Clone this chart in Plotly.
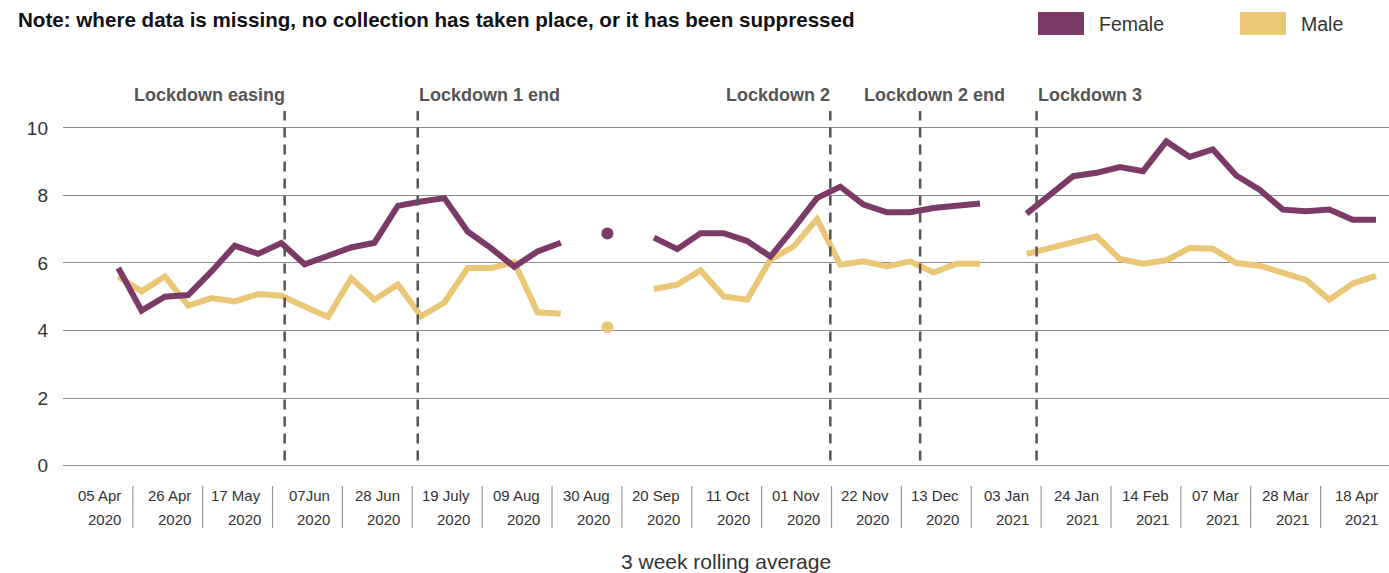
import pandas as pd
import plotly.graph_objects as go

# ---------------- data ----------------
start_date = "2020-04-05"
female = [5.85, 4.59, 5.00, 5.05, 5.75, 6.51, 6.27, 6.59, 5.96, 6.22,
          6.46, 6.60, 7.69, 7.82, 7.92, 6.93, 6.44, 5.89, 6.34, 6.60,
          None, 6.87, None, 6.75, 6.41, 6.88, 6.88, 6.65, 6.19, 7.03,
          7.92, 8.26, 7.73, 7.50, 7.50, 7.63, 7.68, 7.76, None, 7.46,
          8.00, 8.57, 8.67, 8.84, 8.72, 9.60, 9.14, 9.36, 8.59, 8.17,
          7.58, 7.53, 7.58, 7.28, 7.28]
male = [5.60, 5.16, 5.60, 4.74, 4.96, 4.86, 5.08, 5.03, 4.71, 4.40,
        5.55, 4.91, 5.36, 4.42, 4.83, 5.85, 5.85, 6.02, 4.54, 4.50,
        None, 4.10, None, 5.23, 5.36, 5.78, 5.01, 4.91, 6.10, 6.49,
        7.30, 5.95, 6.05, 5.90, 6.05, 5.72, 5.98, 5.98, None, 6.27,
        6.44, 6.59, 6.79, 6.12, 5.98, 6.08, 6.44, 6.42, 6.00, 5.92,
        5.70, 5.50, 4.91, 5.39, 5.62]

tick_days = ["05 Apr", "26 Apr", "17 May", "07Jun", "28 Jun", "19 July", "09 Aug",
             "30 Aug", "20 Sep", "11 Oct", "01 Nov", "22 Nov", "13 Dec", "03 Jan",
             "24 Jan", "14 Feb", "07 Mar", "28 Mar", "18 Apr"]
tick_years = ["2020"] * 13 + ["2021"] * 6

event_names = ["Lockdown easing", "Lockdown 1 end", "Lockdown 2", "Lockdown 2 end", "Lockdown 3"]
event_dates = ["2020-05-25", "2020-07-04", "2020-11-05", "2020-12-02", "2021-01-06"]

y_ticks = [0, 2, 4, 6, 8, 10]

# ---------------- styling ----------------
FEMALE_C = "#7b3a68"
MALE_C = "#eac777"
FONT = "Liberation Sans, Arial, Helvetica, sans-serif"
W, H = 1389, 573
ML, MR, MT, MB = 63, 0, 111, 104
PX_PER_DAY = 23.29 / 7


def px_x(px):
    return (px - ML) / (W - ML - MR)


def px_y(py):
    return (H - MB - py) / (H - MT - MB)


dates = pd.date_range(start_date, periods=len(female), freq="7D")
d0 = pd.Timestamp(start_date)
x_start = d0 - pd.Timedelta(days=(118.3 - ML) / PX_PER_DAY)
x_end = d0 + pd.Timedelta(days=(W - MR - 118.3) / PX_PER_DAY)


def isolated_sizes(vals, size):
    out = []
    for i, v in enumerate(vals):
        prev_missing = i == 0 or vals[i - 1] is None
        next_missing = i == len(vals) - 1 or vals[i + 1] is None
        out.append(size if (v is not None and prev_missing and next_missing) else 0)
    return out


fig = go.Figure()
for name, vals, col in [("Male", male, MALE_C), ("Female", female, FEMALE_C)]:
    fig.add_trace(go.Scatter(
        x=dates, y=vals, name=name, mode="lines+markers",
        line=dict(color=col, width=6),
        marker=dict(color=col, size=isolated_sizes(vals, 12), opacity=1, line=dict(width=0)),
        connectgaps=False, showlegend=False,
    ))

shapes = []
annotations = []

# lockdown lines and labels
label_anchor = ["right", "left", "right", "left", "left"]
label_shift = [2, -1, 2, -58, -1]
for name, d, anc, sh in zip(event_names, event_dates, label_anchor, label_shift):
    shapes.append(dict(type="line", xref="x", yref="y", x0=d, x1=d, y0=0.15, y1=10.5,
                       line=dict(color="#555555", width=2.5, dash="10px,7px"), layer="above"))
    annotations.append(dict(x=d, xref="x", y=px_y(95), yref="paper", text=name,
                            showarrow=False, xanchor=anc, yanchor="middle", xshift=sh,
                            font=dict(family=FONT, size=18, color="#555555", weight="bold")))

# x tick labels (right aligned, two rows) and separators
tick_dates = dates[::3]
for i, (td, dl, yl) in enumerate(zip(tick_dates, tick_days, tick_years)):
    xlab = td + pd.Timedelta(days=4.5 / PX_PER_DAY)
    for txt, py in [(dl, 495), (yl, 519)]:
        annotations.append(dict(x=xlab, xref="x", y=px_y(py), yref="paper", text=txt,
                                showarrow=False, xanchor="right", yanchor="middle",
                                font=dict(family=FONT, size=15, color="#333333")))
    if i < len(tick_days) - 1:
        xs = td + pd.Timedelta(days=14.5 / PX_PER_DAY)
        shapes.append(dict(type="line", xref="x", yref="paper", x0=xs, x1=xs,
                           y0=px_y(486), y1=px_y(528), line=dict(color="#999999", width=1.2)))

# title note
annotations.append(dict(x=px_x(16), xref="paper", y=px_y(20), yref="paper",
                        text="Note: where data is missing, no collection has taken place, or it has been suppressed",
                        showarrow=False, xanchor="left", yanchor="middle",
                        font=dict(family=FONT, size=20.6, color="#111111", weight="bold")))

# axis title
annotations.append(dict(x=0.5, xref="paper", y=px_y(561), yref="paper",
                        text="3 week rolling average", showarrow=False,
                        xanchor="center", yanchor="middle",
                        font=dict(family=FONT, size=21, color="#333333")))

# legend (swatches + labels)
for name, col, sx in [("Female", FEMALE_C, 1038), ("Male", MALE_C, 1240)]:
    shapes.append(dict(type="rect", xref="paper", yref="paper",
                       x0=px_x(sx), x1=px_x(sx + 46), y0=px_y(35), y1=px_y(12),
                       fillcolor=col, line=dict(width=0)))
    annotations.append(dict(x=px_x(sx + 59), xref="paper", y=px_y(24), yref="paper",
                            text=name, showarrow=False, xanchor="left", yanchor="middle",
                            font=dict(family=FONT, size=19.5, color="#333333")))

fig.update_layout(
    width=W, height=H,
    margin=dict(l=ML, r=MR, t=MT, b=MB, pad=0),
    paper_bgcolor="white", plot_bgcolor="white",
    font=dict(family=FONT, color="#333333"),
    shapes=shapes, annotations=annotations,
    xaxis=dict(type="date", range=[x_start, x_end], showgrid=False, zeroline=False,
               showticklabels=False, ticks="", showline=False),
    yaxis=dict(range=[-0.1, 10.5], tickvals=y_ticks, showgrid=True, gridcolor="#8c8c8c",
               gridwidth=1.2, zeroline=False, showline=False, ticks="",
               ticklabelstandoff=14, tickfont=dict(family=FONT, size=19, color="#333333")),
    hovermode=False,
)

fig.write_html("out.html", config={"displayModeBar": False},
               post_script="document.body.style.margin='0';")
